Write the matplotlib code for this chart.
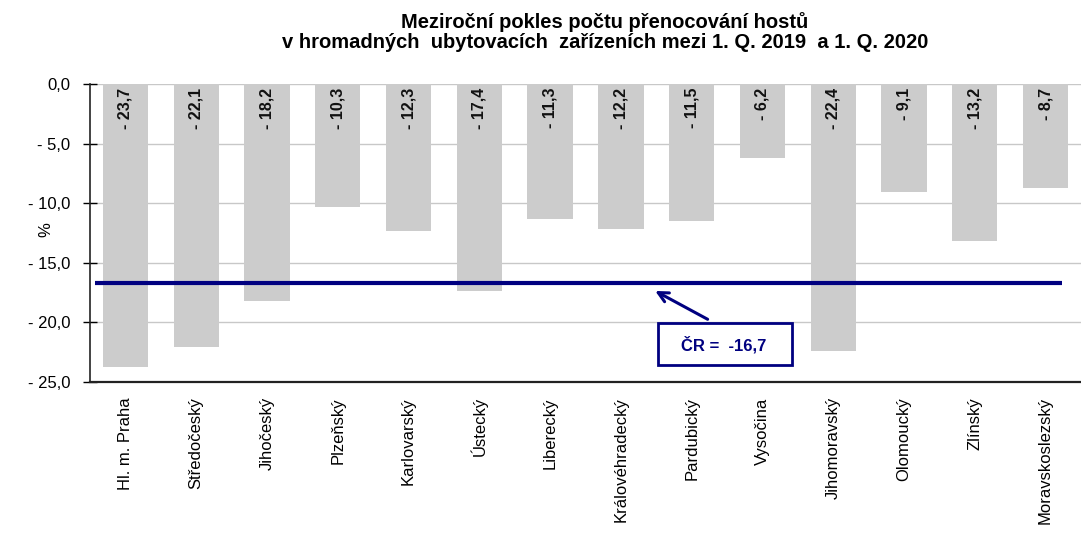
import matplotlib
matplotlib.use("Agg")
import matplotlib.pyplot as plt
from matplotlib.patches import Rectangle

plt.rcParams['font.family'] = ['Liberation Sans', 'DejaVu Sans']

regions = ["Hl. m. Praha", "Středočeský", "Jihočeský", "Plzeňský", "Karlovarský",
           "Ústecký", "Liberecký", "Královéhradecký", "Pardubický", "Vysočina",
           "Jihomoravský", "Olomoucký", "Zlínský", "Moravskoslezský"]
values = [-23.7, -22.1, -18.2, -10.3, -12.3, -17.4, -11.3, -12.2, -11.5, -6.2,
          -22.4, -9.1, -13.2, -8.7]
cr_value = -16.7
yticks = [0, -5, -10, -15, -20, -25]

navy = "#000080"

def fmt(v):
    s = f"{abs(v):.1f}".replace(".", ",")
    return s if v == 0 else "- " + s

fig = plt.figure(figsize=(10.81, 5.33), dpi=100)
ax = fig.add_axes([90/1081, 1-382/533, 1-90/1081, (382-84)/533])

x = list(range(len(regions)))
ax.bar(x, values, width=0.64, color="#cccccc", zorder=2)
ax.set_xlim(-0.5, len(regions)-0.5)
ax.set_ylim(-25, 0)
ax.set_yticks(yticks)
ax.set_yticklabels([fmt(v) for v in yticks], fontsize=12)
ax.yaxis.grid(True, color="#c8c8c8", linewidth=1, zorder=0)
ax.set_axisbelow(True)
ax.set_xticks(x)
ax.set_xticklabels(regions, rotation=90, fontsize=12)
ax.tick_params(axis='x', length=0, pad=11)
ax.tick_params(axis='y', length=10, width=1, direction='inout', pad=9)
for s in ['top', 'right']:
    ax.spines[s].set_visible(False)
ax.spines['left'].set_color("#222222")
ax.spines['bottom'].set_color("#222222")
ax.spines['bottom'].set_linewidth(1.6)
ax.spines['left'].set_linewidth(1.2)
ax.set_ylabel("%", fontsize=12)
ax.yaxis.set_label_coords(-0.037, 0.51)

for xi, v in zip(x, values):
    ax.text(xi, -0.3, fmt(v), rotation=90, ha='center', va='top',
            fontsize=11.5, fontweight='bold', color="#111111", zorder=3)

ax.plot([-0.43, 13.23], [cr_value, cr_value], color=navy, linewidth=3, zorder=4,
        solid_capstyle='butt')

ax.annotate("", xy=(7.45, -17.25), xytext=(8.26, -19.85),
            arrowprops=dict(arrowstyle="->", color=navy, lw=2.2,
                            mutation_scale=18), zorder=5)
ax.add_patch(Rectangle((7.52, -23.57), 9.42-7.52, 23.57-20.05, facecolor="white",
                       edgecolor=navy, linewidth=2, zorder=6))
ax.text(8.45, -21.85, "ČR =  -16,7", ha='center', va='center', fontsize=12,
        fontweight='bold', color=navy, zorder=7)

fig.text(605/1081, 1-12/533,
         "Meziroční pokles počtu přenocování hostů\nv hromadných  ubytovacích  zařízeních mezi 1. Q. 2019  a 1. Q. 2020",
         ha='center', va='top', fontsize=14.5, fontweight='bold', linespacing=1.05)

fig.savefig("out.png", dpi=100)
